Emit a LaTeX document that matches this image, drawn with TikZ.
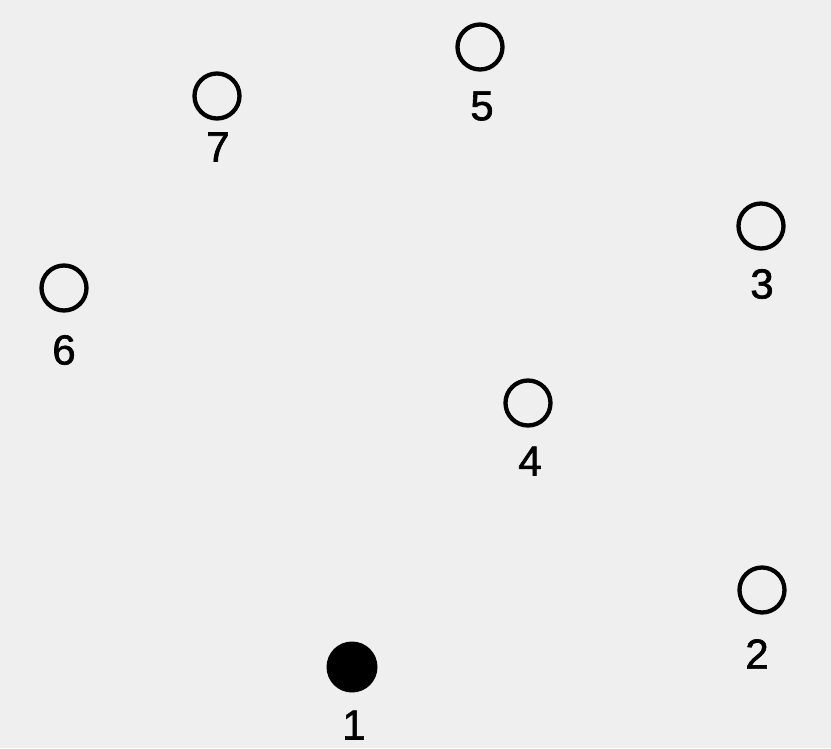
\documentclass[tikz,border=0pt]{standalone}
\usepackage{fontspec}
\setmainfont{Liberation Sans}
\newfontfamily\numfont[FakeBold=1.5]{Liberation Sans}
\definecolor{paper}{HTML}{EFEFEF}
\begin{document}
\begin{tikzpicture}[x=1pt,y=-1pt,
  site/.style={circle,draw=black,line width=4.3pt,minimum size=45pt,inner sep=0pt},
  origin/.style={circle,fill=black,minimum size=51pt,inner sep=0pt},
  num/.style={inner sep=0pt,anchor=center,font=\numfont\fontsize{42}{42}\selectfont}]
\fill[paper] (0,0) rectangle (831,748);
\useasboundingbox (0,0) rectangle (831,748);
\node[origin] (c1) at (352,667) {};
\node[site] (c2) at (762,590) {};
\node[site] (c3) at (761,226) {};
\node[site] (c4) at (528,403) {};
\node[site] (c5) at (480,47) {};
\node[site] (c6) at (64,288) {};
\node[site] (c7) at (217,96) {};
\node[num] (l1) at (354,725) {1};
\node[num] (l2) at (757,654) {2};
\node[num] (l3) at (762,284) {3};
\node[num] (l4) at (530,461) {4};
\node[num] (l5) at (482,106) {5};
\node[num] (l6) at (64,350) {6};
\node[num] (l7) at (218,147) {7};
\end{tikzpicture}
\end{document}
